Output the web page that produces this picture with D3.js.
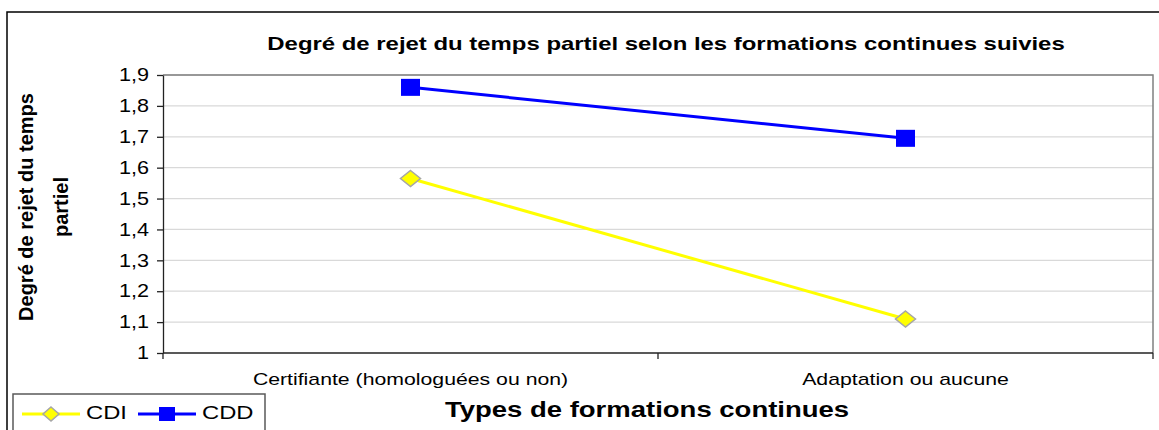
<!DOCTYPE html>
<meta charset="utf-8">
<html lang="fr">
<style>
body { margin: 0; background: #fff; }
svg text { font-family: Arial, "Liberation Sans", sans-serif; fill: #000; }
.grid line { stroke: #d9d9d9; stroke-width: 1.3px; }
.frame { fill: none; stroke: #808080; stroke-width: 1.5px; }
.axis path, .axis line { stroke: #222; stroke-width: 1.3px; }
.tick text { font-size: 18px; }
.title { font-size: 18px; font-weight: bold; }
.xtitle { font-size: 22px; font-weight: bold; }
.ytitle { font-size: 20px; font-weight: bold; }
.cat { font-size: 17px; }
.legtext { font-size: 19px; }
</style>
<body>
<svg id="chart" width="1159" height="430"></svg>

<script src="https://d3js.org/d3.v7.min.js"></script>
<script>
// values
var categories = ["Certifiante (homologuées ou non)", "Adaptation ou aucune"];
var seriesNames = ["CDI", "CDD"];
var cdi = [1.565, 1.11];
var cdd = [1.86, 1.695];
var yTickValues = [1, 1.1, 1.2, 1.3, 1.4, 1.5, 1.6, 1.7, 1.8, 1.9];

var colors = {CDI: "#ffff00", CDD: "#0000ff"};
var sx = 1.25; // the original is stretched sideways a bit
var margin = {top: 75, right: 6, bottom: 77, left: 163},
    width = 1159, height = 430;

var svg = d3.select("#chart");

// outer border of the chart object
svg.append("rect")
  .attr("x", 7).attr("y", 12)
  .attr("width", 1200).attr("height", 500)
  .attr("fill", "#fff").attr("stroke", "#000").attr("stroke-width", 1.5);

var x = d3.scaleBand().domain(categories).range([margin.left, width - margin.right]);
var y = d3.scaleLinear().domain([1, 1.9]).range([height - margin.bottom, margin.top]);
var cx = function(i) { return x(categories[i]) + x.bandwidth() / 2; };

var fr = d3.formatLocale({decimal: ",", thousands: " ", grouping: [3], currency: ["", "€"]});
var fmt = fr.format(".2~r");

// gridlines
svg.append("g").attr("class", "grid")
  .selectAll("line").data(yTickValues.slice(1)).enter().append("line")
  .attr("x1", margin.left).attr("x2", width - margin.right)
  .attr("y1", function(d) { return y(d); }).attr("y2", function(d) { return y(d); });

// plot area frame, top and right
svg.append("path").attr("class", "frame")
  .attr("d", "M" + margin.left + "," + y(1.9) + "H" + (width - margin.right) + "V" + y(1));

// y axis
var yAxis = svg.append("g").attr("class", "axis")
  .attr("transform", "translate(" + margin.left + ",0)")
  .call(d3.axisLeft(y).tickValues(yTickValues).tickSize(6).tickSizeOuter(0).tickFormat(fmt));
yAxis.selectAll(".tick text")
  .attr("x", -14 / 1.2)
  .attr("transform", "scale(1.2,1)");

// x axis: line + ticks between categories
var xAxis = svg.append("g").attr("class", "axis");
xAxis.append("line")
  .attr("x1", margin.left).attr("x2", width - margin.right)
  .attr("y1", y(1)).attr("y2", y(1));
xAxis.selectAll(".xt").data(d3.range(categories.length + 1)).enter().append("line")
  .attr("x1", function(i) { return x.range()[0] + i * x.step(); })
  .attr("x2", function(i) { return x.range()[0] + i * x.step(); })
  .attr("y1", y(1)).attr("y2", y(1) + 6);
svg.selectAll(".cat").data(categories).enter().append("text")
  .attr("class", "cat")
  .attr("text-anchor", "middle")
  .attr("transform", function(d, i) { return "translate(" + cx(i) + ",385) scale(" + sx + ",1)"; })
  .text(function(d) { return d; });

// series
var line = d3.line()
  .x(function(d, i) { return cx(i); })
  .y(function(d) { return y(d); });

function diamond(w, h) {
  return "M0," + (-h / 2) + "L" + (w / 2) + ",0L0," + (h / 2) + "L" + (-w / 2) + ",0Z";
}

svg.append("path").datum(cdi)
  .attr("fill", "none").attr("stroke", colors.CDI).attr("stroke-width", 3)
  .attr("d", line);
svg.append("path").datum(cdd)
  .attr("fill", "none").attr("stroke", colors.CDD).attr("stroke-width", 3)
  .attr("d", line);

svg.selectAll(".mcdi").data(cdi).enter().append("path")
  .attr("transform", function(d, i) { return "translate(" + cx(i) + "," + y(d) + ")"; })
  .attr("d", diamond(20, 16))
  .attr("fill", colors.CDI).attr("stroke", "#a6a6a6").attr("stroke-width", 1.5);
svg.selectAll(".mcdd").data(cdd).enter().append("rect")
  .attr("x", function(d, i) { return cx(i) - 9.5; })
  .attr("y", function(d) { return y(d) - 8.5; })
  .attr("width", 19).attr("height", 17)
  .attr("fill", colors.CDD);

// titles
svg.append("text").attr("class", "title")
  .attr("text-anchor", "middle")
  .attr("transform", "translate(666,50) scale(1.33,1)")
  .text("Degré de rejet du temps partiel selon les formations continues suivies");

svg.append("text").attr("class", "xtitle")
  .attr("text-anchor", "middle")
  .attr("transform", "translate(647,417) scale(" + sx + ",1)")
  .text("Types de formations continues");

var yt = svg.append("text").attr("class", "ytitle")
  .attr("text-anchor", "middle")
  .attr("transform", "translate(0,207) rotate(-90)");
yt.append("tspan").attr("x", 0).attr("y", 33).text("Degré de rejet du temps");
yt.append("tspan").attr("x", 0).attr("y", 68).text("partiel");

// legend
var leg = svg.append("g");
leg.append("rect")
  .attr("x", 13).attr("y", 394).attr("width", 252).attr("height", 60)
  .attr("fill", "#fff").attr("stroke", "#595959").attr("stroke-width", 1.5);

var legItems = leg.selectAll(".li").data(seriesNames).enter().append("g")
  .attr("transform", function(d, i) { return "translate(" + (22 + i * 116) + ",414)"; });
legItems.append("line")
  .attr("x1", 0).attr("x2", 58).attr("y1", 0).attr("y2", 0)
  .attr("stroke", function(d) { return colors[d]; }).attr("stroke-width", 3);
legItems.filter(function(d) { return d === "CDI"; }).append("path")
  .attr("transform", "translate(29,0)")
  .attr("d", diamond(16, 14))
  .attr("fill", colors.CDI).attr("stroke", "#a6a6a6").attr("stroke-width", 1.5);
legItems.filter(function(d) { return d === "CDD"; }).append("rect")
  .attr("x", 21).attr("y", -7).attr("width", 16).attr("height", 14)
  .attr("fill", colors.CDD);
legItems.append("text").attr("class", "legtext")
  .attr("transform", "translate(64,5) scale(" + sx + ",1)")
  .text(function(d) { return d; });
</script>
</body>
</html>
